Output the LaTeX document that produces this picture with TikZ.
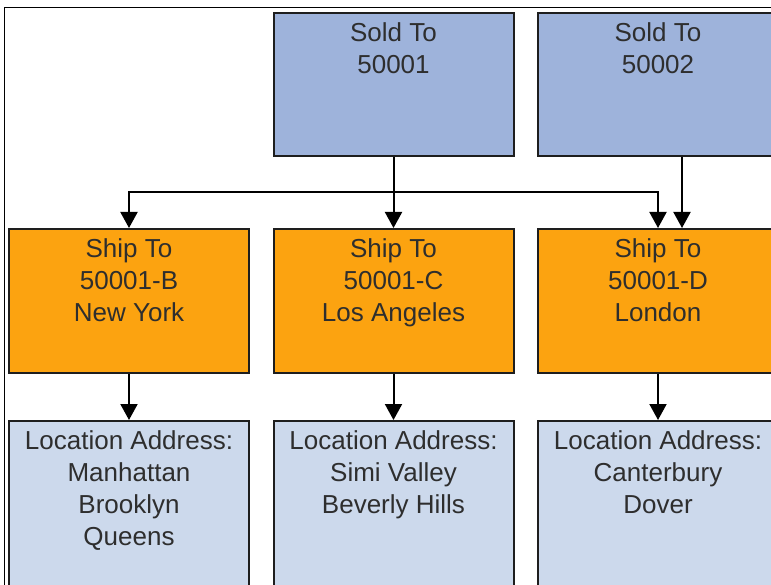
\documentclass[tikz,border=0pt]{standalone}
\usepackage{fontspec}
\setmainfont{Liberation Sans}
\usetikzlibrary{arrows.meta,calc}
\definecolor{soldfill}{HTML}{9EB3DB}
\definecolor{shipfill}{HTML}{FCA310}
\definecolor{locfill}{HTML}{CCD9EC}
\definecolor{txtcol}{HTML}{2E2E2E}
\definecolor{edgecol}{HTML}{1E1E1E}
\begin{document}
\begin{tikzpicture}[x=1pt,y=-1pt,
  box/.style={draw=edgecol, line width=2pt, minimum width=240pt, anchor=north west, inner sep=0pt},
  soldbox/.style={box, fill=soldfill, minimum height=143pt},
  shipbox/.style={box, fill=shipfill, minimum height=144pt},
  locbox/.style={box, fill=locfill, minimum height=200pt},
  txt/.style={anchor=north, inner sep=0pt, align=center, text=txtcol, font=\fontsize{26}{32}\selectfont},
  arr/.style={draw=black, line width=2pt, -{Triangle[width=17pt,length=16pt]}}
]
\useasboundingbox (0,0) rectangle (771,585);
\clip (0,0) rectangle (771,585);
\draw[line width=1pt] (4,585) -- (4,8) -- (771,8);

% Sold To row
\node[soldbox] (s1) at (272.5,12) {};
\node[soldbox] (s2) at (537,12) {};
% Ship To row
\node[shipbox] (p1) at (8,228) {};
\node[shipbox] (p2) at (272.5,228) {};
\node[shipbox] (p3) at (537,228) {};
% Location row
\node[locbox] (l1) at (8,420) {};
\node[locbox] (l2) at (272.5,420) {};
\node[locbox] (l3) at (537,420) {};

% texts
\node[txt] (ts1) at ([yshift=-10pt]s1.north) {Sold To\\50001};
\node[txt] (ts2) at ([yshift=-10pt]s2.north) {Sold To\\50002};
\node[txt] (tp1) at ([yshift=-10pt]p1.north) {Ship To\\50001-B\\New York};
\node[txt] (tp2) at ([yshift=-10pt]p2.north) {Ship To\\50001-C\\Los Angeles};
\node[txt] (tp3) at ([yshift=-10pt]p3.north) {Ship To\\50001-D\\London};
\node[txt] (tl1) at ([yshift=-10pt]l1.north) {Location Address:\\Manhattan\\Brooklyn\\Queens};
\node[txt] (tl2) at ([yshift=-10pt]l2.north) {Location Address:\\Simi Valley\\Beverly Hills};
\node[txt] (tl3) at ([yshift=-10pt]l3.north) {Location Address:\\Canterbury\\Dover};

% connectors
\coordinate (j) at ($(s1.south)!0.5!(p2.north)$);
\draw[arr] (s1.south) -- (p2.north);
\draw[arr] (j) -| (p1.north);
\draw[arr] (j) -| (p3.north);
\coordinate (d2) at ([xshift=24pt]p3.north);
\draw[arr] (d2 |- s2.south) -- (d2);
\draw[arr] (p1.south) -- (l1.north);
\draw[arr] (p2.south) -- (l2.north);
\draw[arr] (p3.south) -- (l3.north);
\end{tikzpicture}
\end{document}
